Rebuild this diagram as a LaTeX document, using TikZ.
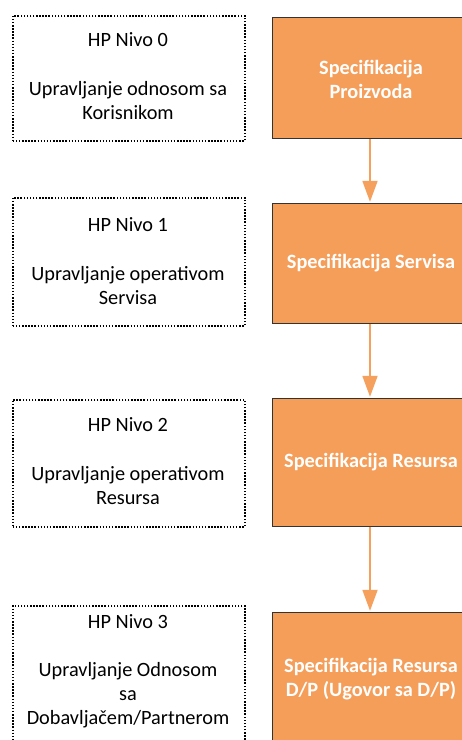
\documentclass[tikz,border=0pt]{standalone}
\usepackage{fontspec}
\setmainfont{Carlito}
\usetikzlibrary{arrows.meta}
\definecolor{orfill}{HTML}{F59E5A}
\definecolor{orline}{HTML}{F5A05C}
\definecolor{bord}{HTML}{333333}
\begin{document}
\begin{tikzpicture}[x=1pt,y=-1pt,
  lvlbox/.style={draw=black, line width=1.5pt, dash pattern=on 1.5pt off 1.6pt, fill=white,
    minimum width=232pt, inner sep=0pt, anchor=north west},
  specbox/.style={draw=bord, line width=1.4pt, fill=orfill,
    minimum width=196pt, inner sep=0pt, anchor=north west},
  lvltext/.style={font=\fontsize{20.3}{24}\selectfont, align=center, inner sep=0pt},
  spectext/.style={font=\bfseries\fontsize{20.3}{24}\selectfont, text=white, align=center, inner sep=0pt},
  flow/.style={draw=orline, line width=1.8pt, -{Triangle[length=21pt,width=15pt]}, shorten >=0.5pt}
]
\useasboundingbox (0,0) rectangle (462,740);
\clip (0,0) rectangle (462,740);

% left dotted boxes
\node[lvlbox, minimum height=125pt] (l0) at (12,15) {};
\node[lvlbox, minimum height=128pt] (l1) at (12,197) {};
\node[lvlbox, minimum height=127pt] (l2) at (12,399) {};
\node[lvlbox, minimum height=150pt] (l3) at (12,605) {};

\node[lvltext] (t0) at (128,76) {HP Nivo 0\\[25pt]Upravljanje odnosom sa\\Korisnikom};
\node[lvltext] (t1) at (128,261) {HP Nivo 1\\[25pt]Upravljanje operativom\\Servisa};
\node[lvltext] (t2) at (128,461) {HP Nivo 2\\[25pt]Upravljanje operativom\\Resursa};
\node[lvltext, anchor=north] (t3) at (128,614) {HP Nivo 3\\[24pt]Upravljanje Odnosom\\sa\\Dobavljačem/Partnerom};

% right orange boxes
\node[specbox, minimum height=121pt] (o0) at (272,17) {};
\node[specbox, minimum height=120pt] (o1) at (272,203) {};
\node[specbox, minimum height=128pt] (o2) at (272,398) {};
\node[specbox, minimum height=134pt] (o3) at (272,612) {};

\node[spectext] (s0) at (371,79) {Specifikacija\\Proizvoda};
\node[spectext] (s1) at (371,263) {Specifikacija Servisa};
\node[spectext] (s2) at (371,462) {Specifikacija Resursa};
\node[spectext] (s3) at (371,679) {Specifikacija Resursa\\D/P (Ugovor sa D/P)};

% arrows
\coordinate (a0) at (370,138.7);
\coordinate (b0) at (370,202.3);
\coordinate (a1) at (370,323.7);
\coordinate (b1) at (370,397.3);
\coordinate (a2) at (370,526.7);
\coordinate (b2) at (370,611.3);
\draw[flow] (a0) -- (b0);
\draw[flow] (a1) -- (b1);
\draw[flow] (a2) -- (b2);
\end{tikzpicture}
\end{document}
